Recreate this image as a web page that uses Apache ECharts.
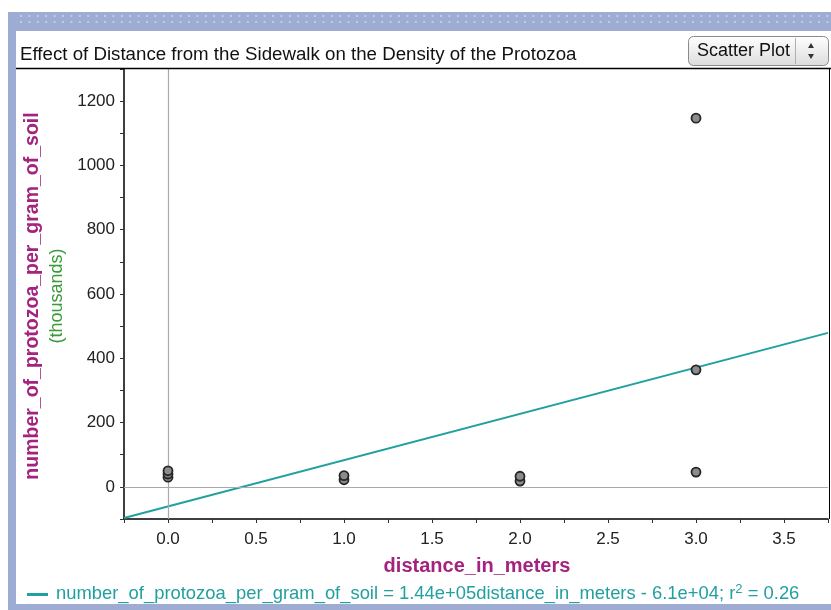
<!DOCTYPE html>
<html><head><meta charset="utf-8">
<script src="https://cdn.jsdelivr.net/npm/echarts@6/dist/echarts.min.js"></script>
<style>html,body{margin:0;padding:0;background:#fff}#c{width:831px;height:610px}</style>
</head><body><div id="c"></div>
<script>
// ---- data ----
const distances = [0, 0, 0, 1, 1, 2, 2, 3, 3, 3];
const protozoaThousands = [30, 40, 50, 22, 35, 18, 33, 46, 364, 1147];
const fitSlopeThousands = 144;      // 1.44e+05 per meter
const fitInterceptThousands = -61;  // -6.1e+04
const xRange = [-0.25, 3.75];
const yRange = [-100, 1300];
const yTickLabels = [0, 200, 400, 600, 800, 1000, 1200];
const xTickLabels = [0, 0.5, 1, 1.5, 2, 2.5, 3, 3.5];
const titleText = 'Effect of Distance from the Sidewalk on the Density of the Protozoa';
const xName = 'distance_in_meters';
const yName = 'number_of_protozoa_per_gram_of_soil';
const yUnit = '(thousands)';
const legendText = 'number_of_protozoa_per_gram_of_soil = 1.44e+05distance_in_meters - 6.1e+04; r';
const legendTail = ' = 0.26';

const FONT = '"Liberation Sans", Arial, sans-serif';
const PURPLE = '#a3237f';
const TEAL = '#22a0a0';

const points = distances.map((d, i) => [d, protozoaThousands[i]]);
const fitLine = xRange.map(x => [x, fitSlopeThousands * x + fitInterceptThousands]);

const chart = echarts.init(document.getElementById('c'), null, {renderer: 'canvas'});

const dots = [];
for (let i = 0; i < 100; i++) {
  dots.push({type: 'line', silent: true, z: 1, shape: {x1: 20 + i * 8.4, y1: 16, x2: 22 + i * 8.4, y2: 16}, style: {stroke: '#cdd5eb', lineWidth: 1.5}});
  dots.push({type: 'line', silent: true, z: 1, shape: {x1: 20 + i * 8.4, y1: 22, x2: 22 + i * 8.4, y2: 22}, style: {stroke: '#cdd5eb', lineWidth: 1.5}});
}

chart.setOption({
  animation: false,
  backgroundColor: '#fff',
  grid: {left: 124, right: 1, top: 69, bottom: 91, containLabel: false},
  xAxis: {
    type: 'value', min: xRange[0], max: xRange[1], interval: 0.25,
    axisLine: {show: true, onZero: false, lineStyle: {color: '#000', width: 1.5}},
    axisTick: {show: true, length: 4, lineStyle: {color: '#333'}},
    splitLine: {show: false},
    axisLabel: {
      margin: 12, color: '#222', fontSize: 17, fontFamily: FONT,
      formatter: v => {
        const ok = xTickLabels.some(t => Math.abs(t - v) < 1e-6);
        return ok ? v.toFixed(1) : '';
      }
    }
  },
  yAxis: {
    type: 'value', min: yRange[0], max: yRange[1], interval: 100,
    axisLine: {show: true, onZero: false, lineStyle: {color: '#000', width: 1.5}},
    axisTick: {show: true, length: 4, lineStyle: {color: '#333'}},
    splitLine: {show: false},
    axisLabel: {
      margin: 9, color: '#222', fontSize: 17, fontFamily: FONT,
      formatter: v => yTickLabels.indexOf(Math.round(v)) >= 0 ? String(Math.round(v)) : ''
    }
  },
  series: [
    {
      type: 'line', data: fitLine, showSymbol: false, z: 3, silent: true,
      lineStyle: {color: TEAL, width: 2},
      markLine: {
        silent: true, symbol: 'none', animation: false,
        label: {show: false},
        lineStyle: {color: '#aaaaaa', width: 1.2, type: 'solid'},
        data: [{xAxis: 0}, {yAxis: 0}]
      }
    },
    {
      type: 'scatter', data: points, z: 5, symbol: 'circle', symbolSize: 9,
      itemStyle: {color: '#8c8c8c', borderColor: '#262626', borderWidth: 1.8, opacity: 1}
    }
  ],
  graphic: [
    // frame
    {type: 'rect', z: -10, silent: true, shape: {x: 8, y: 12, width: 823, height: 598}, style: {fill: '#9eacd4'}},
    {type: 'rect', z: -9, silent: true, shape: {x: 16, y: 31, width: 815, height: 573}, style: {fill: '#ffffff'}},
    ...dots,
    // title divider and right border
    {type: 'line', z: 10, silent: true, shape: {x1: 16, y1: 68.5, x2: 831, y2: 68.5}, style: {stroke: '#000', lineWidth: 1.5}},
    {type: 'line', z: 10, silent: true, shape: {x1: 829.5, y1: 68, x2: 829.5, y2: 519}, style: {stroke: '#000', lineWidth: 1}},
    // title
    {type: 'text', z: 10, silent: true, x: 20, y: 55, style: {text: titleText, font: '18.7px ' + FONT, fill: '#111', verticalAlign: 'middle'}},
    // dropdown
    {type: 'rect', z: 10, silent: true, shape: {x: 688.5, y: 36.5, width: 140, height: 29, r: 5},
      style: {fill: new echarts.graphic.LinearGradient(0, 0, 0, 1, [{offset: 0, color: '#ffffff'}, {offset: 1, color: '#dcdcdc'}]), stroke: '#8a8a8a', lineWidth: 1}},
    {type: 'line', z: 11, silent: true, shape: {x1: 795.5, y1: 38, x2: 795.5, y2: 64}, style: {stroke: '#b0b0b0', lineWidth: 1}},
    {type: 'text', z: 11, silent: true, x: 697, y: 51, style: {text: 'Scatter Plot', font: '18px ' + FONT, fill: '#111', verticalAlign: 'middle'}},
    {type: 'polygon', z: 11, silent: true, shape: {points: [[808, 48], [814, 48], [811, 43]]}, style: {fill: '#333'}},
    {type: 'polygon', z: 11, silent: true, shape: {points: [[808, 54], [814, 54], [811, 59]]}, style: {fill: '#333'}},
    // axis names
    {type: 'text', z: 10, silent: true, x: 477, y: 566, style: {text: xName, font: 'bold 20px ' + FONT, fill: PURPLE, align: 'center', verticalAlign: 'middle'}},
    {type: 'text', z: 10, silent: true, x: 33, y: 296, rotation: Math.PI / 2, style: {text: yName, font: 'bold 19.5px ' + FONT, fill: PURPLE, align: 'center', verticalAlign: 'middle'}},
    {type: 'text', z: 10, silent: true, x: 57, y: 296, rotation: Math.PI / 2, style: {text: yUnit, font: '18px ' + FONT, fill: '#3a9a3a', align: 'center', verticalAlign: 'middle'}},
    // legend
    {type: 'rect', z: 10, silent: true, shape: {x: 27, y: 593, width: 21, height: 3}, style: {fill: TEAL}},
    {type: 'text', z: 10, silent: true, x: 56, y: 593,
      style: {
        text: '{a|' + legendText + '}{s|2}{a|' + legendTail + '}',
        verticalAlign: 'middle',
        rich: {
          a: {font: '18.4px ' + FONT, fill: TEAL, color: TEAL, verticalAlign: 'bottom', lineHeight: 20},
          s: {font: '13px ' + FONT, fill: TEAL, color: TEAL, verticalAlign: 'top', lineHeight: 20}
        }
      }}
  ]
});
</script>
</body></html>
